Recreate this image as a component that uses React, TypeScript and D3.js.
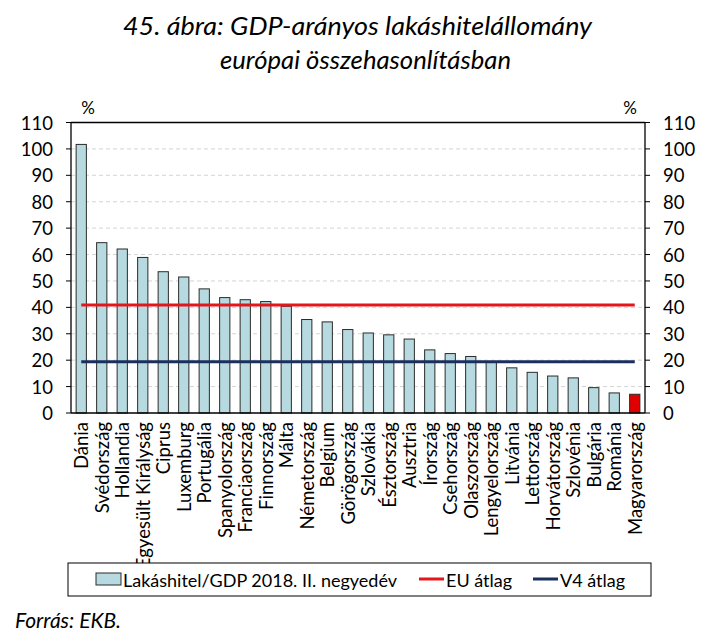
import React from "react";
import * as d3 from "d3";

const categories = [
  "Dánia", "Svédország", "Hollandia", "Egyesült Királyság", "Ciprus", "Luxemburg",
  "Portugália", "Spanyolország", "Franciaország", "Finnország", "Málta", "Németország",
  "Belgium", "Görögország", "Szlovákia", "Észtország", "Ausztria", "Írország",
  "Csehország", "Olaszország", "Lengyelország", "Litvánia", "Lettország",
  "Horvátország", "Szlovénia", "Bulgária", "Románia", "Magyarország",
];
const values = [
  101.7, 64.5, 62.1, 58.9, 53.5, 51.5, 47.0, 43.7, 42.9, 42.2, 40.4, 35.4, 34.5,
  31.6, 30.3, 29.6, 28.0, 23.9, 22.5, 21.4, 19.4, 17.1, 15.4, 14.0, 13.3, 9.6, 7.6, 7.1,
];
const euAverage = 40.9;
const v4Average = 19.4;
const yTicks = [0, 10, 20, 30, 40, 50, 60, 70, 80, 90, 100, 110];
const highlight = "Magyarország";

const FONT = "Lato, 'Open Sans', sans-serif";

export default function App() {
  const W = 709, H = 642;
  const left = 71, right = 645, top = 122.5, bottom = 413;
  const x = d3.scaleBand<string>().domain(categories).range([left, right]).paddingInner(0.5).paddingOuter(0.25);
  const y = d3.scaleLinear().domain([0, 110]).range([bottom, top]);
  const bw = x.bandwidth();
  const firstC = (x(categories[0]) as number) + bw / 2;
  const lastC = (x(categories[categories.length - 1]) as number) + bw / 2;

  return (
    <svg width={W} height={H} style={{ position: "absolute", left: 0, top: 0, background: "#fff" }} fontFamily={FONT}>
      <rect x={0} y={0} width={W} height={H} fill="#fff" />
      <text x={357.5} y={35} textAnchor="middle" fontSize={25.5} fontStyle="italic" fill="#000" textLength={469} lengthAdjust="spacingAndGlyphs">
        45. ábra: GDP-arányos lakáshitelállomány
      </text>
      <text x={365.5} y={69} textAnchor="middle" fontSize={25.5} fontStyle="italic" fill="#000" textLength={291} lengthAdjust="spacingAndGlyphs">
        európai összehasonlításban
      </text>

      {/* gridlines */}
      {yTicks.filter((t) => t > 0 && t < 110).map((t) => (
        <line key={"g" + t} x1={left} x2={right} y1={y(t)} y2={y(t)} stroke="#d4d4d4" strokeWidth={1} strokeDasharray="4,3" />
      ))}

      {/* bars */}
      {categories.map((c, i) => (
        <rect
          key={c}
          x={x(c)}
          y={y(values[i])}
          width={bw}
          height={bottom - y(values[i])}
          fill={c === highlight ? "#e00000" : "#b6dadf"}
          stroke="#2b2b2b"
          strokeWidth={1}
        />
      ))}

      {/* average lines */}
      <line x1={firstC} x2={lastC} y1={y(euAverage)} y2={y(euAverage)} stroke="#e3161c" strokeWidth={3} />
      <line x1={firstC} x2={lastC} y1={y(v4Average)} y2={y(v4Average)} stroke="#1b2f5c" strokeWidth={3} />

      {/* frame */}
      <line x1={left} x2={right} y1={top} y2={top} stroke="#000" strokeWidth={1.3} />
      <line x1={left} x2={right} y1={bottom} y2={bottom} stroke="#000" strokeWidth={1.3} />
      <line x1={left} x2={left} y1={top} y2={bottom} stroke="#000" strokeWidth={1.3} />
      <line x1={right} x2={right} y1={top} y2={bottom} stroke="#000" strokeWidth={1.3} />

      {/* ticks and labels */}
      {yTicks.map((t) => (
        <g key={"t" + t}>
          <line x1={left - 5} x2={left} y1={y(t)} y2={y(t)} stroke="#000" strokeWidth={1} />
          <line x1={right} x2={right + 5} y1={y(t)} y2={y(t)} stroke="#000" strokeWidth={1} />
          <text x={53} y={y(t)} textAnchor="end" dominantBaseline="central" fontSize={18.5} fill="#000">{t}</text>
          <text x={663} y={y(t)} textAnchor="start" dominantBaseline="central" fontSize={18.5} fill="#000">{t}</text>
        </g>
      ))}
      <text x={88} y={107} textAnchor="middle" dominantBaseline="central" fontSize={17} fill="#000">%</text>
      <text x={630} y={107} textAnchor="middle" dominantBaseline="central" fontSize={17} fill="#000">%</text>

      {/* category labels */}
      {categories.map((c) => {
        const cx = (x(c) as number) + bw / 2;
        return (
          <text key={"l" + c} transform={`translate(${cx},${422}) rotate(-90)`} textAnchor="end" dominantBaseline="central" fontSize={18.5} fill="#000">
            {c}
          </text>
        );
      })}

      {/* legend */}
      <rect x={68} y={563} width={583} height={33} fill="#fff" stroke="#000" strokeWidth={1} />
      <rect x={96} y={573} width={25} height={12} fill="#b6dadf" stroke="#2b2b2b" strokeWidth={1} />
      <text x={123} y={579.5} dominantBaseline="central" fontSize={18} fill="#000">Lakáshitel/GDP 2018. II. negyedév</text>
      <line x1={419} x2={444} y1={579} y2={579} stroke="#e3161c" strokeWidth={3} />
      <text x={446} y={579.5} dominantBaseline="central" fontSize={18} fill="#000">EU átlag</text>
      <line x1={533} x2={558} y1={579} y2={579} stroke="#1b2f5c" strokeWidth={3} />
      <text x={560} y={579.5} dominantBaseline="central" fontSize={18} fill="#000">V4 átlag</text>

      <text x={15} y={628} fontSize={21} fontStyle="italic" fill="#000">Forrás: EKB.</text>
    </svg>
  );
}
